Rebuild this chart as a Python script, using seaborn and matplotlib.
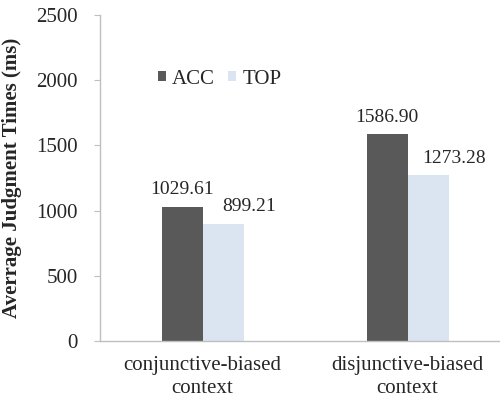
import matplotlib
matplotlib.use("Agg")
import matplotlib.pyplot as plt
import seaborn as sns
import pandas as pd

sns.set_style("white")
plt.rcParams['font.family'] = ['Liberation Serif', 'DejaVu Serif']

contexts = ['conjunctive-biased\ncontext', 'disjunctive-biased\ncontext']
conditions = ['ACC', 'TOP']
acc_times = [1029.61, 1586.90]
top_times = [899.21, 1273.28]
colors = {'ACC': '#595959', 'TOP': '#dbe4f1'}

df = pd.DataFrame({
    'context': contexts * 2,
    'condition': ['ACC'] * 2 + ['TOP'] * 2,
    'time': acc_times + top_times,
})

fig = plt.figure(figsize=(5.0, 4.01), dpi=100)
ax = fig.add_axes([0.2, 0.1496, 0.82, 0.813])

sns.barplot(data=df, x='context', y='time', hue='condition', hue_order=conditions,
            palette=colors, width=0.4, saturation=1, ax=ax, linewidth=0)

# value labels (TOP labels sit a bit to the right, as in the original)
for i, cont in enumerate(ax.containers):
    shift = 19 if i == 1 else 0
    for bar in cont:
        h = bar.get_height()
        ax.annotate(f'{h:.2f}', (bar.get_x() + bar.get_width() / 2, h),
                    xytext=(shift, 6), textcoords='offset points',
                    ha='center', va='bottom', fontsize=14)

ax.set_ylim(0, 2500)
ax.set_xlim(-0.5, 1.5)
ax.set_yticks(range(0, 2501, 500))
ax.set_xlabel('')
ax.set_ylabel('Averrage Judgment Times (ms)', fontsize=15, fontweight='bold', labelpad=10)
ax.tick_params(axis='y', labelsize=15, length=4, color='#bfbfbf', direction='out',
               left=True, pad=12)
ax.tick_params(axis='x', labelsize=15, length=0, pad=11)
for lbl in ax.get_xticklabels():
    lbl.set_linespacing(1.3)

for side in ['top', 'right']:
    ax.spines[side].set_visible(False)
for side in ['left', 'bottom']:
    ax.spines[side].set_color('#bfbfbf')
    ax.spines[side].set_linewidth(1)

ax.legend(loc='upper left', bbox_to_anchor=(0.095, 0.89), ncol=2, frameon=False,
          fontsize=15, handlelength=0.4, handleheight=0.4, handletextpad=0.3,
          columnspacing=0.6)

fig.savefig('out.png', dpi=100)
